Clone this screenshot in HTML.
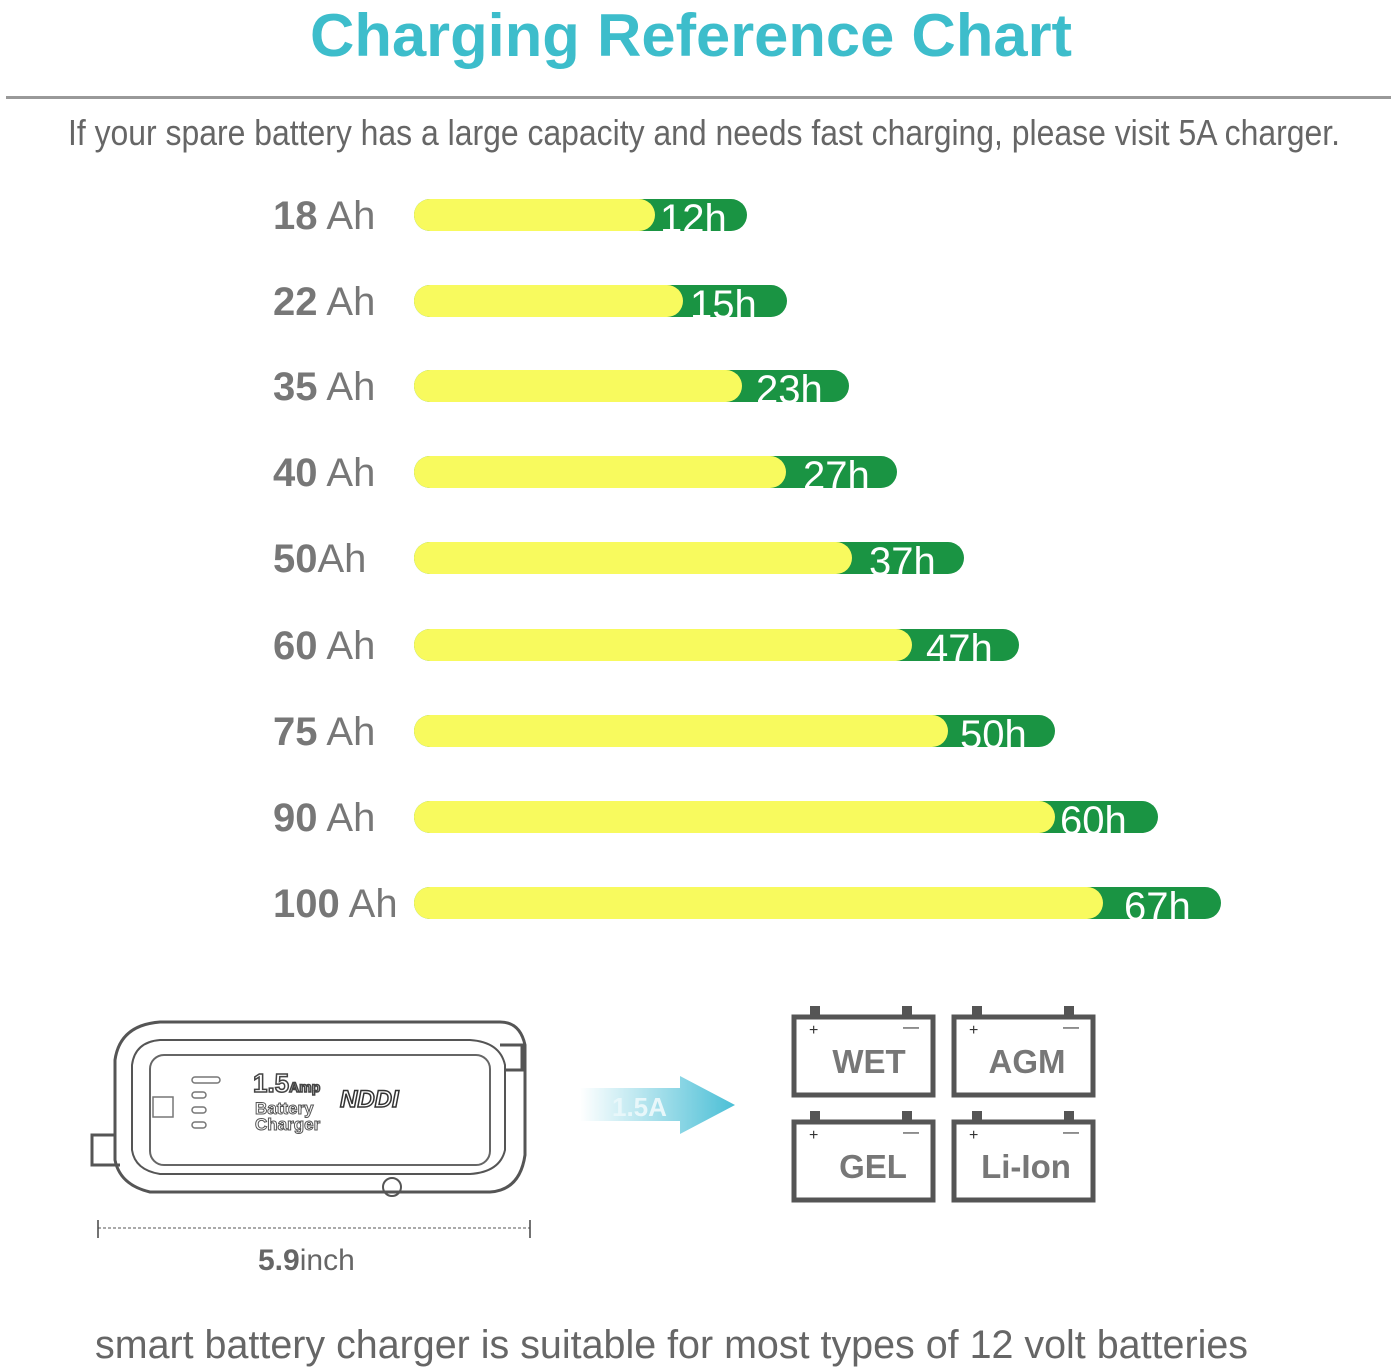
<!DOCTYPE html>
<html><head><style>body{margin:0;background:#fff}svg{display:block}</style></head><body>
<svg width="1394" height="1372" viewBox="0 0 1394 1372" xmlns="http://www.w3.org/2000/svg" font-family="Liberation Sans, sans-serif">
<defs>
<linearGradient id="ag" x1="0" x2="1"><stop offset="0" stop-color="#4bbfd6" stop-opacity="0"/><stop offset="1" stop-color="#4bbfd6"/></linearGradient>
</defs>
<text x="691" y="56" text-anchor="middle" font-size="60" font-weight="bold" fill="#3dbdcb" textLength="762" lengthAdjust="spacingAndGlyphs">Charging Reference Chart</text>
<rect x="6" y="96" width="1385" height="3" fill="#999"/>
<text x="68" y="145" font-size="36" fill="#666" textLength="1272" lengthAdjust="spacingAndGlyphs">If your spare battery has a large capacity and needs fast charging, please visit 5A charger.</text>
<g font-size="40" fill="#777">
<text x="273" y="229"><tspan font-weight="bold">18</tspan> Ah</text>
<text x="273" y="315"><tspan font-weight="bold">22</tspan> Ah</text>
<text x="273" y="400"><tspan font-weight="bold">35</tspan> Ah</text>
<text x="273" y="486"><tspan font-weight="bold">40</tspan> Ah</text>
<text x="273" y="572"><tspan font-weight="bold">50</tspan>Ah</text>
<text x="273" y="659"><tspan font-weight="bold">60</tspan> Ah</text>
<text x="273" y="745"><tspan font-weight="bold">75</tspan> Ah</text>
<text x="273" y="831"><tspan font-weight="bold">90</tspan> Ah</text>
<text x="273" y="917"><tspan font-weight="bold">100</tspan> Ah</text>
</g>
<g>
<rect x="414" y="199" width="333" height="32" rx="16" fill="#1a9443"/><rect x="414" y="199" width="241" height="32" rx="16" fill="#f8fa5e"/>
<rect x="414" y="285" width="373" height="32" rx="16" fill="#1a9443"/><rect x="414" y="285" width="269" height="32" rx="16" fill="#f8fa5e"/>
<rect x="414" y="370" width="435" height="32" rx="16" fill="#1a9443"/><rect x="414" y="370" width="328" height="32" rx="16" fill="#f8fa5e"/>
<rect x="414" y="456" width="483" height="32" rx="16" fill="#1a9443"/><rect x="414" y="456" width="372" height="32" rx="16" fill="#f8fa5e"/>
<rect x="414" y="542" width="550" height="32" rx="16" fill="#1a9443"/><rect x="414" y="542" width="438" height="32" rx="16" fill="#f8fa5e"/>
<rect x="414" y="629" width="605" height="32" rx="16" fill="#1a9443"/><rect x="414" y="629" width="498" height="32" rx="16" fill="#f8fa5e"/>
<rect x="414" y="715" width="641" height="32" rx="16" fill="#1a9443"/><rect x="414" y="715" width="534" height="32" rx="16" fill="#f8fa5e"/>
<rect x="414" y="801" width="744" height="32" rx="16" fill="#1a9443"/><rect x="414" y="801" width="641" height="32" rx="16" fill="#f8fa5e"/>
<rect x="414" y="887" width="807" height="32" rx="16" fill="#1a9443"/><rect x="414" y="887" width="689" height="32" rx="16" fill="#f8fa5e"/>
</g>
<g font-size="40" fill="#fff">
<text x="660" y="232">12h</text>
<text x="690" y="318">15h</text>
<text x="756" y="403">23h</text>
<text x="803" y="489">27h</text>
<text x="869" y="575">37h</text>
<text x="926" y="662">47h</text>
<text x="960" y="748">50h</text>
<text x="1060" y="834">60h</text>
<text x="1124" y="920">67h</text>
</g>
<g fill="none" stroke="#555" stroke-width="3">
<path d="M160 1022 L500 1022 Q520 1022 525 1045 L525 1155 Q520 1190 490 1192 L150 1192 Q120 1185 115 1160 L115 1060 Q120 1025 160 1022Z"/>
<path d="M160 1040 L470 1040 Q500 1042 505 1065 L505 1150 Q500 1172 470 1174 L160 1174 Q135 1170 132 1150 L132 1065 Q135 1042 160 1040Z" stroke-width="2"/>
<path d="M500 1045 L522 1045 L522 1070 L505 1070" />
<path d="M115 1135 L92 1135 L92 1165 L120 1165" />
<circle cx="392" cy="1187" r="9" stroke-width="2"/>
</g>
<rect x="150" y="1055" width="340" height="110" rx="14" fill="none" stroke="#666" stroke-width="2"/>
<text x="253" y="1092" font-size="26" font-weight="bold" fill="#fff" stroke="#444" stroke-width="1.5">1.5<tspan font-size="14">Amp</tspan></text>
<text x="255" y="1114" font-size="17" font-weight="bold" fill="#fff" stroke="#555" stroke-width="1">Battery</text>
<text x="255" y="1130" font-size="17" font-weight="bold" fill="#fff" stroke="#555" stroke-width="1">Charger</text>
<text x="340" y="1107" font-size="24" font-weight="bold" font-style="italic" fill="#fff" stroke="#333" stroke-width="1.5">NDDI</text>
<g fill="none" stroke="#777" stroke-width="1.5"><rect x="192" y="1077" width="28" height="6" rx="3"/><rect x="192" y="1092" width="14" height="6" rx="3"/><rect x="192" y="1107" width="14" height="6" rx="3"/><rect x="192" y="1122" width="14" height="6" rx="3"/><rect x="153" y="1097" width="20" height="20"/></g>
<line x1="98" y1="1228" x2="530" y2="1228" stroke="#555" stroke-width="1" stroke-dasharray="3,2"/>
<line x1="98" y1="1220" x2="98" y2="1238" stroke="#444" stroke-width="1.5"/>
<line x1="530" y1="1220" x2="530" y2="1238" stroke="#444" stroke-width="1.5"/>
<text x="258" y="1270" font-size="30" fill="#666"><tspan font-weight="bold">5.9</tspan>inch</text>
<path d="M580 1088 L680 1088 L680 1076 L735 1105 L680 1134 L680 1121 L580 1121Z" fill="url(#ag)"/>
<text x="612" y="1116" font-size="26" font-weight="bold" fill="#e8f7fa">1.5A</text>
<g fill="none" stroke="#555" stroke-width="5">
<rect x="794" y="1017" width="139" height="78"/><rect x="954" y="1017" width="139" height="78"/>
<rect x="794" y="1122" width="139" height="78"/><rect x="954" y="1122" width="139" height="78"/>
</g>
<g fill="#555">
<rect x="810" y="1006" width="10" height="10"/><rect x="902" y="1006" width="10" height="10"/>
<rect x="972" y="1006" width="10" height="10"/><rect x="1064" y="1006" width="10" height="10"/>
<rect x="810" y="1111" width="10" height="10"/><rect x="902" y="1111" width="10" height="10"/>
<rect x="972" y="1111" width="10" height="10"/><rect x="1064" y="1111" width="10" height="10"/>
</g>
<g font-size="16" fill="#333"><text x="809" y="1035">+</text><text x="969" y="1035">+</text><text x="809" y="1140">+</text><text x="969" y="1140">+</text>
<text x="903" y="1032">—</text><text x="1063" y="1032">—</text><text x="903" y="1137">—</text><text x="1063" y="1137">—</text></g>
<g font-size="33" font-weight="bold" fill="#777" text-anchor="middle">
<text x="869" y="1073">WET</text><text x="1027" y="1073">AGM</text><text x="873" y="1178">GEL</text><text x="1026" y="1178">Li-Ion</text></g>
<text x="95" y="1358" font-size="40" fill="#666" textLength="1153" lengthAdjust="spacingAndGlyphs">smart battery charger is suitable for most types of 12 volt batteries</text>
</svg>
</body></html>
